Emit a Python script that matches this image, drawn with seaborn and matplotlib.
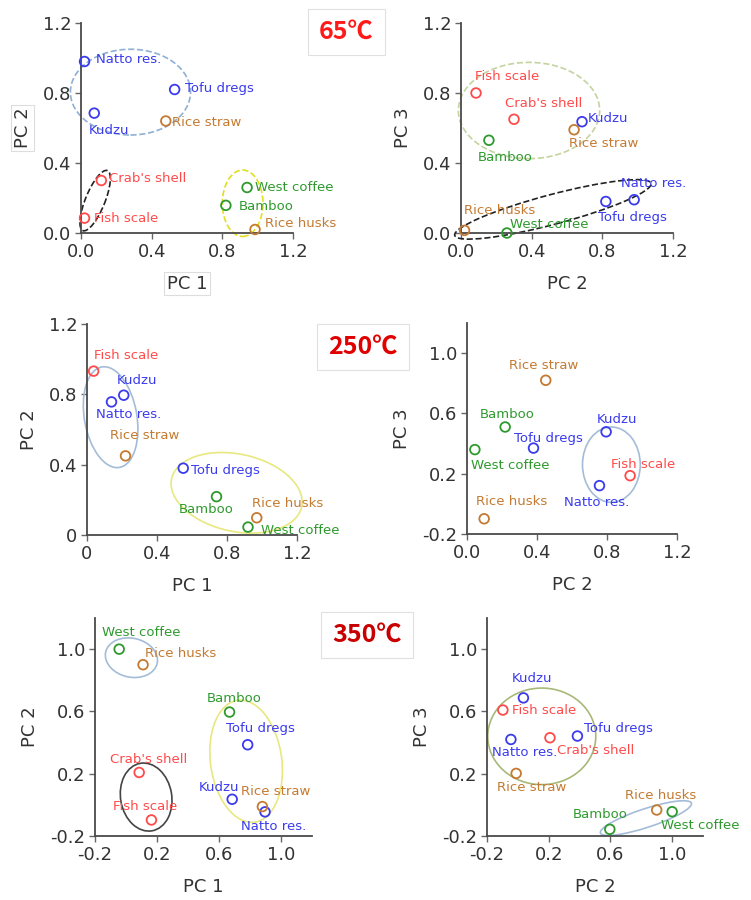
import numpy as np
import pandas as pd
import matplotlib
matplotlib.use("Agg")
import matplotlib.pyplot as plt
from matplotlib.patches import Ellipse
import seaborn as sns

sns.set_theme(style="white")
plt.rcParams['font.family'] = ['DejaVu Sans']

# --- data ---
materials = ["Natto res.", "Tofu dregs", "Kudzu", "Fish scale", "Crab's shell",
             "Rice straw", "Rice husks", "Bamboo", "West coffee"]
groups = ["bean", "bean", "bean", "marine", "marine", "rice", "rice", "wood", "wood"]

pc1_65 = [0.02, 0.53, 0.075, 0.02, 0.115, 0.48, 0.985, 0.82, 0.94]
pc2_65 = [0.98, 0.82, 0.685, 0.085, 0.30, 0.64, 0.02, 0.158, 0.26]
pc3_65 = [0.19, 0.18, 0.636, 0.80, 0.65, 0.59, 0.015, 0.53, 0.0]

pc1_250 = [0.14, 0.55, 0.21, 0.038, np.nan, 0.22, 0.97, 0.74, 0.92]
pc2_250 = [0.757, 0.38, 0.795, 0.932, np.nan, 0.45, 0.098, 0.218, 0.045]
pc3_250 = [0.121, 0.37, 0.478, 0.187, np.nan, 0.82, -0.099, 0.51, 0.36]

pc1_350 = [0.897, 0.785, 0.685, 0.164, 0.085, 0.88, 0.11, 0.668, -0.044]
pc2_350 = [-0.045, 0.386, 0.036, -0.097, 0.208, -0.011, 0.90, 0.596, 1.0]
pc3_350 = [0.42, 0.442, 0.687, 0.609, 0.431, 0.202, -0.033, -0.157, -0.044]

temps = ["65℃", "250℃", "350℃"]

palette = {"bean": "#3b3bee", "marine": "#ff4a4a", "rice": "#c47a30", "wood": "#2e9a2e"}

# --- layout / styling ---
W, H = 751, 900
def rect(x0, x1, y0, y1):
    return [x0 / W, 1 - y1 / H, (x1 - x0) / W, (y1 - y0) / H]

panels = [
    dict(x=pc1_65, y=pc2_65, xl="PC 1", yl="PC 2", rect=rect(81, 293, 23, 233),
         xlim=(0, 1.2), ylim=(0, 1.2), xt=["0.0", "0.4", "0.8", "1.2"], yt=["0.0", "0.4", "0.8", "1.2"],
         boxed=True,
         off={"Natto res.": (11, 2), "Tofu dregs": (10, 1), "Kudzu": (-5, -17), "Rice straw": (6, -2),
              "Crab's shell": (8, 2), "Fish scale": (9, 0), "West coffee": (8, 0), "Bamboo": (13, -1),
              "Rice husks": (10, 6)},
         ell=[(0.28, 0.805, 0.68, 0.49, 0, "#8fb0d4", "--"),
              (0.08, 0.185, 0.37, 0.11, 68, "#222222", "--"),
              (0.915, 0.17, 0.23, 0.38, 0, "#e0e020", "--")]),
    dict(x=pc2_65, y=pc3_65, xl="PC 2", yl="PC 3", rect=rect(461, 673, 23, 233),
         xlim=(0, 1.2), ylim=(0, 1.2), xt=["0.0", "0.4", "0.8", "1.2"], yt=["0.0", "0.4", "0.8", "1.2"],
         off={"Fish scale": (-1, 17), "Crab's shell": (-9, 16), "Kudzu": (6, 3), "Rice straw": (-5, -14),
              "Bamboo": (-11, -17), "Natto res.": (-13, 16), "Tofu dregs": (-8, -16),
              "Rice husks": (-1, 20), "West coffee": (3, 8)},
         ell=[(0.385, 0.70, 0.80, 0.55, 0, "#c4d4a0", "--"),
              (0.52, 0.135, 1.15, 0.17, 15, "#222222", "--")]),
    dict(x=pc1_250, y=pc2_250, xl="PC 1", yl="PC 2", rect=rect(87, 297, 324, 535),
         xlim=(0, 1.2), ylim=(0, 1.2), xt=["0", "0.4", "0.8", "1.2"], yt=["0", "0.4", "0.8", "1.2"],
         off={"Fish scale": (0, 16), "Kudzu": (-7, 15), "Natto res.": (-15, -13), "Rice straw": (-16, 20),
              "Tofu dregs": (8, -2), "Bamboo": (-38, -13), "Rice husks": (-5, 14), "West coffee": (13, -3)},
         ell=[(0.135, 0.67, 0.30, 0.58, 10, "#a4bcd8", "-"),
              (0.855, 0.24, 0.76, 0.44, -12, "#e8e880", "-")]),
    dict(x=pc2_250, y=pc3_250, xl="PC 2", yl="PC 3", rect=rect(467, 677, 323, 534),
         xlim=(0, 1.2), ylim=(-0.2, 1.2), xt=["0.0", "0.4", "0.8", "1.2"], yt=["-0.2", "0.2", "0.6", "1.0"],
         off={"Rice straw": (-37, 15), "Bamboo": (-25, 12), "West coffee": (-4, -16), "Tofu dregs": (-19, 10),
              "Kudzu": (-9, 12), "Fish scale": (-19, 11), "Natto res.": (-35, -17), "Rice husks": (-8, 17)},
         ell=[(0.825, 0.26, 0.33, 0.50, 0, "#a4bcd8", "-")]),
    dict(x=pc1_350, y=pc2_350, xl="PC 1", yl="PC 2", rect=rect(95, 312, 618, 836),
         xlim=(-0.2, 1.2), ylim=(-0.2, 1.2), xt=["-0.2", "0.2", "0.6", "1.0"], yt=["-0.2", "0.2", "0.6", "1.0"],
         off={"West coffee": (-17, 17), "Rice husks": (2, 11), "Bamboo": (-23, 14), "Tofu dregs": (-22, 16),
              "Crab's shell": (-29, 13), "Kudzu": (-33, 12), "Rice straw": (-21, 15), "Natto res.": (-24, -15),
              "Fish scale": (-38, 13)},
         ell=[(0.035, 0.945, 0.34, 0.25, -12, "#a4bcd8", "-"),
              (0.775, 0.28, 0.46, 0.79, 8, "#e8e880", "-"),
              (0.13, 0.05, 0.33, 0.44, 10, "#444444", "-")]),
    dict(x=pc2_350, y=pc3_350, xl="PC 2", yl="PC 3", rect=rect(487, 703, 618, 836),
         xlim=(-0.2, 1.2), ylim=(-0.2, 1.2), xt=["-0.2", "0.2", "0.6", "1.0"], yt=["-0.2", "0.2", "0.6", "1.0"],
         off={"Kudzu": (-12, 19), "Fish scale": (9, 0), "Tofu dregs": (7, 8), "Crab's shell": (7, -13),
              "Natto res.": (-19, -13), "Rice straw": (-19, -14), "Rice husks": (-32, 14),
              "West coffee": (-11, -14), "Bamboo": (-37, 15)},
         ell=[(0.155, 0.44, 0.70, 0.62, 0, "#a8b878", "-"),
              (0.83, -0.085, 0.62, 0.12, 18, "#a4bcd8", "-")]),
]

temp_boxes = [(346, 32, "#ff1a1a"), (363, 347, "#e00000"), (367, 635, "#c80000")]

fig = plt.figure(figsize=(W / 100, H / 100), dpi=100)

for p in panels:
    ax = fig.add_axes(p["rect"])
    df = pd.DataFrame({"x": p["x"], "y": p["y"], "name": materials, "group": groups}).dropna()
    sns.scatterplot(data=df, x="x", y="y", hue="group", palette=palette, s=48,
                    linewidth=1.3, legend=False, ax=ax, clip_on=False, zorder=3)
    coll = ax.collections[-1]
    coll.set_edgecolors(coll.get_facecolors())
    coll.set_facecolors("none")

    for _, r in df.iterrows():
        dx, dy = p["off"][r["name"]]
        ax.annotate(r["name"], (r["x"], r["y"]), xytext=(dx, dy), textcoords="offset pixels",
                    ha="left", va="center", fontsize=9.5, color=palette[r["group"]],
                    annotation_clip=False)

    for cx, cy, w, h, ang, col, ls in p["ell"]:
        ax.add_patch(Ellipse((cx, cy), w, h, angle=ang, fill=False, edgecolor=col,
                             linestyle=ls, linewidth=1.2, clip_on=False, zorder=2))

    ax.set_xlim(*p["xlim"])
    ax.set_ylim(*p["ylim"])
    xt = [float(t) for t in p["xt"]]
    yt = [float(t) for t in p["yt"]]
    ax.set_xticks(xt)
    ax.set_xticklabels(p["xt"])
    ax.set_yticks(yt)
    ax.set_yticklabels(p["yt"])
    ax.tick_params(axis="both", direction="out", length=4, width=1, color="#666666",
                   labelsize=13, labelcolor="#333333", bottom=True, left=True, pad=3)
    for side in ["top", "right"]:
        ax.spines[side].set_visible(False)
    for side in ["left", "bottom"]:
        ax.spines[side].set_color("#4a4a4a")
        ax.spines[side].set_linewidth(1.3)
    bb = dict(boxstyle="square,pad=0.15", fc="white", ec="#dddddd", lw=0.8) if p.get("boxed") else None
    ax.set_xlabel(p["xl"], fontsize=13, color="#333333", labelpad=10,
                  bbox=bb)
    ax.set_ylabel(p["yl"], fontsize=13, color="#333333", labelpad=8, bbox=bb)
    ax.set_facecolor("white")

for (tx, ty, col), label in zip(temp_boxes, temps):
    fig.text(tx / W, 1 - ty / H, label, ha="center", va="center", fontsize=18, fontweight="bold",
             color=col, family=["Noto Sans CJK JP", "DejaVu Sans"],
             bbox=dict(boxstyle="square,pad=0.45", fc="white", ec="#e0e0e0", lw=0.8))

fig.savefig("out.png", dpi=100, facecolor="white")
